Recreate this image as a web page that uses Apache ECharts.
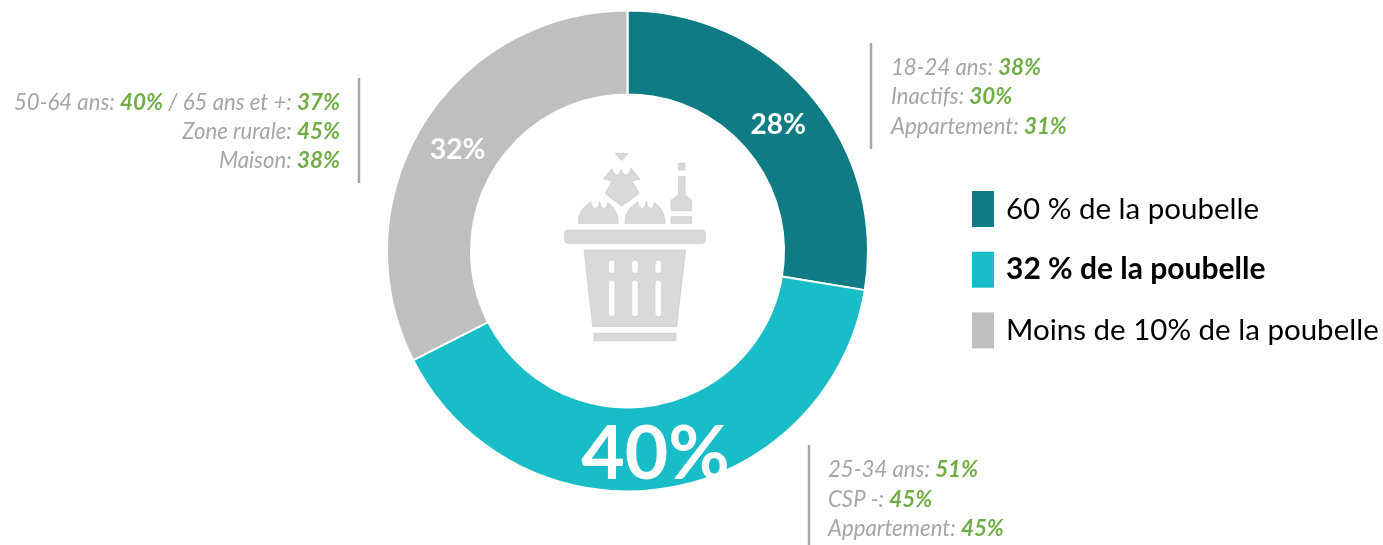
<!DOCTYPE html>
<html>
<head>
<meta charset="utf-8">
<title>Poubelle</title>
<script src="https://cdn.jsdelivr.net/npm/echarts@6/dist/echarts.min.js"></script>
<style>
  html, body { margin: 0; padding: 0; background: #fff; }
  #chart { width: 1383px; height: 545px; }
</style>
</head>
<body>
<div id="chart"></div>
<script>
const sliceNames = ['60 % de la poubelle', '32 % de la poubelle', 'Moins de 10% de la poubelle'];
// shares measured from the slice angles, the labels show them rounded
const sliceValues = [27.6, 39.9, 32.5];
const sliceLabels = ['28%', '40%', '32%'];

// each line is a list of [label, percent]
const calloutRight = [
  [['18-24 ans: ', 38]],
  [['Inactifs: ', 30]],
  [['Appartement: ', 31]],
];
const calloutBottom = [
  [['25-34 ans: ', 51]],
  [['CSP -: ', 45]],
  [['Appartement: ', 45]],
];
const calloutLeft = [
  [['50-64 ans: ', 40], [' / 65 ans et +: ', 37]],
  [['Zone rurale: ', 45]],
  [['Maison: ', 38]],
];

const FONT = 'Lato';
const COLORS = ['#0F7C85', '#19BDC7', '#BFBFBF'];
const LABEL_SIZES = [28, 75, 28];
const LABEL_OFFSETS = [[-3, 4], [-3, 5], [2, 4]];
const ICON = '#D9D9D9';
const ICON_EDGE = '#C8C8C8';

function lineText(parts) {
  return parts.map(p => `{g|${p[0]}}{v|${p[1]}%}`).join('');
}
const rich = {
  g: { fontFamily: FONT, fontStyle: 'italic', fontSize: 22.2, fill: '#A6A6A6', color: '#A6A6A6' },
  v: { fontFamily: FONT, fontStyle: 'italic', fontWeight: 'bold', fontSize: 22.4, fill: '#70AD47', color: '#70AD47' },
};

function callout(lines, x, ys, align) {
  return lines.map((parts, i) => ({
    type: 'text',
    x: x,
    y: ys[i],
    style: { text: lineText(parts), rich: rich, align: align, verticalAlign: 'middle' },
  }));
}

function bar(x, y1, y2) {
  return { type: 'line', shape: { x1: x, y1: y1, x2: x, y2: y2 }, style: { stroke: '#A6A6A6', lineWidth: 2.5 } };
}

function poly(points) {
  return { type: 'polygon', shape: { points: points }, style: { fill: ICON, stroke: ICON_EDGE, lineWidth: 2 } };
}
function box(x, y, w, h, r, fill) {
  return { type: 'rect', shape: { x: x, y: y, width: w, height: h, r: r || 0 }, style: { fill: fill || ICON, stroke: ICON_EDGE, lineWidth: 2 } };
}

// bread loaf, drawn at the left position then shifted
function loaf(dx) {
  const pts = [[85, 250], [87, 228], [97, 207], [122, 185], [127, 200], [136, 207], [146, 197], [149, 184], [153, 198], [162, 207], [170, 200], [173, 187], [192, 205], [202, 225], [205, 250]];
  return poly(pts.map(p => [p[0] + dx, p[1]]));
}

// basket icon, sketched on a 3x grid then scaled down
const slots = [175, 245, 315];
const icon = {
  type: 'group',
  x: 550,
  y: 140,
  scaleX: 1 / 3,
  scaleY: 1 / 3,
  children: [
    poly([[195, 40], [235, 40], [215, 62]]),
    poly([[160, 116], [186, 87], [192, 101], [201, 106], [209, 100], [213, 88], [219, 100], [228, 106], [237, 100], [243, 85], [270, 117], [246, 124], [268, 160], [215, 199], [165, 160], [186, 124]]),
    loaf(0),
    loaf(140),
    box(385, 70, 20, 20),
    poly([[385, 110], [405, 110], [405, 165], [425, 180], [425, 212], [363, 212], [363, 180], [385, 165]]),
    box(363, 230, 62, 20),
    box(44, 270, 422, 40, 10),
    poly([[102, 330], [407, 330], [380, 560], [128, 560]]),
    ...slots.map(x => box(x, 360, 20, 40, 10, '#fff')),
    ...slots.map(x => box(x, 420, 20, 110, 10, '#fff')),
    box(132, 580, 246, 22),
  ],
};

const chart = echarts.init(document.getElementById('chart'));
chart.setOption({
  animation: false,
  legend: {
    orient: 'vertical',
    left: 972,
    top: 191,
    padding: 0,
    itemWidth: 22,
    itemHeight: 36,
    itemGap: 24.7,
    icon: 'rect',
    selectedMode: false,
    itemStyle: { borderWidth: 0 },
    textStyle: { fontFamily: FONT, fontSize: 29.5, color: '#000', padding: [0, 0, 0, 7] },
    data: [
      { name: sliceNames[0] },
      { name: sliceNames[1], textStyle: { fontWeight: 'bold', fontSize: 30 } },
      { name: sliceNames[2] },
    ],
  },
  series: [
    {
      type: 'pie',
      center: [627.5, 251],
      radius: [156.5, 240.5],
      startAngle: 90,
      silent: true,
      itemStyle: { borderColor: '#fff', borderWidth: 2 },
      labelLine: { show: false },
      data: sliceNames.map((name, i) => ({
        name: name,
        value: sliceValues[i],
        itemStyle: { color: COLORS[i] },
        label: {
          show: true,
          position: 'inside',
          formatter: sliceLabels[i],
          offset: LABEL_OFFSETS[i],
          fontFamily: FONT,
          fontWeight: 'bold',
          fontSize: LABEL_SIZES[i],
          color: '#fff',
        },
      })),
    },
  ],
  graphic: [
    icon,
    bar(871, 43, 149),
    bar(359, 78, 183),
    bar(809, 445, 545),
    ...callout(calloutRight, 891, [68, 97, 127], 'left'),
    ...callout(calloutBottom, 828, [470, 500, 529], 'left'),
    ...callout(calloutLeft, 340, [103, 132, 161], 'right'),
  ],
});
window.addEventListener('resize', () => {
  chart.resize();
});
</script>
</body>
</html>
